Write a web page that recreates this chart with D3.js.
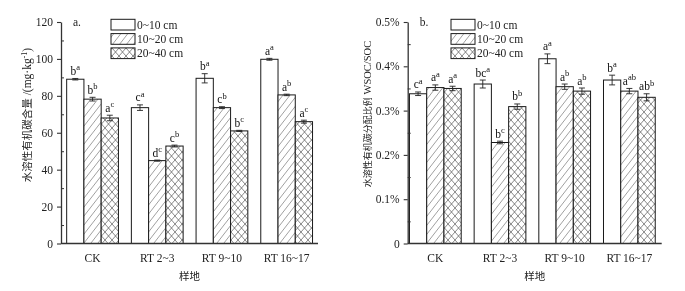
<!DOCTYPE html>
<html><head><meta charset="utf-8">
<script src="https://cdn.jsdelivr.net/npm/d3@7"></script>
<style>body{margin:0;background:#fff} svg{display:block; will-change:transform} text{-webkit-font-smoothing:grayscale}</style>
</head><body>
<svg id="c" width="685" height="291"></svg>
<script>
const categories = ["CK", "RT 2~3", "RT 9~10", "RT 16~17"];
const depths = ["0~10 cm", "10~20 cm", "20~40 cm"];

// Panel a: WSOC content (mg·kg-1)
const wsoc_0_10  = [89.0, 73.6, 89.5, 99.8];
const wsoc_10_20 = [78.2, 44.9, 73.6, 80.5];
const wsoc_20_40 = [68.0, 52.8, 61.0, 66.0];
const wsocErr_0_10  = [0.4, 1.5, 2.5, 0.5];
const wsocErr_10_20 = [1.0, 0.3, 0.5, 0.4];
const wsocErr_20_40 = [1.5, 0.5, 0.3, 0.8];
const wsocLet_0_10  = ["b|a", "c|a", "b|a", "a|a"];
const wsocLet_10_20 = ["b|b", "d|c", "c|b", "a|b"];
const wsocLet_20_40 = ["a|c", "c|b", "b|c", "a|c"];
const wsocTicks = [0, 20, 40, 60, 80, 100, 120];
const wsocMinor = [10, 30, 50, 70, 90, 110];

// Panel b: WSOC/SOC ratio (%)
const ratio_0_10  = [0.338, 0.360, 0.417, 0.369];
const ratio_10_20 = [0.352, 0.228, 0.354, 0.344];
const ratio_20_40 = [0.350, 0.309, 0.344, 0.330];
const ratioErr_0_10  = [0.004, 0.009, 0.011, 0.011];
const ratioErr_10_20 = [0.006, 0.003, 0.006, 0.006];
const ratioErr_20_40 = [0.005, 0.006, 0.007, 0.008];
const ratioLet_0_10  = ["c|a", "bc|a", "a|a", "b|a"];
const ratioLet_10_20 = ["a|a", "b|c", "a|b", "a|ab"];
const ratioLet_20_40 = ["a|a", "b|b", "a|b", "ab|b"];
const ratioTicks = [0, 0.1, 0.2, 0.3, 0.4, 0.5];
const ratioMinor = [0.05, 0.15, 0.25, 0.35, 0.45];

const svg = d3.select("#c");
const SERIF = "'Liberation Serif','Times New Roman',serif";
const CJK = "'Noto Sans CJK SC','Noto Sans',sans-serif";

const defs = svg.append("defs");
const p1 = defs.append("pattern").attr("id", "hatch").attr("patternUnits", "userSpaceOnUse")
  .attr("width", 7).attr("height", 9);
p1.append("rect").attr("width", 7).attr("height", 9).attr("fill", "#fff");
p1.append("path").attr("d", "M-1,1.3 L1,-1.3 M0,9 L7,0 M6,10.3 L8,7.7")
  .attr("stroke", "#777").attr("stroke-width", 0.7);
const p2 = defs.append("pattern").attr("id", "cross").attr("patternUnits", "userSpaceOnUse")
  .attr("width", 7).attr("height", 8);
p2.append("rect").attr("width", 7).attr("height", 8).attr("fill", "#fff");
p2.append("path").attr("d", "M0,0 L7,8 M7,0 L0,8")
  .attr("stroke", "#555").attr("stroke-width", 0.7);
const fills = ["#fff", "url(#hatch)", "url(#cross)"];

function panel(o) {
  const g = svg.append("g");
  const x = d3.scaleBand().domain(categories).range(o.xRange).paddingInner(0.2).paddingOuter(0.1);
  const xs = d3.scaleBand().domain(depths).range([0, x.bandwidth()]);
  const y = d3.scaleLinear().domain(o.yDomain).range([243.5, 22]);

  // bars
  o.values.forEach((vals, i) => {
    vals.forEach((v, j) => {
      const cx = x(categories[j]) + xs(depths[i]);
      g.append("rect").attr("x", cx).attr("y", y(v))
        .attr("width", xs.bandwidth()).attr("height", y(0) - y(v))
        .attr("fill", fills[i]).attr("stroke", "#1a1a1a").attr("stroke-width", 1);
      const e = o.errs[i][j];
      const mx = cx + xs.bandwidth() / 2;
      g.append("path")
        .attr("d", `M${mx - 3},${y(v + e)}H${mx + 3}M${mx},${y(v + e)}V${y(v - e)}M${mx - 3},${y(v - e)}H${mx + 3}`)
        .attr("stroke", "#222").attr("stroke-width", 0.9).attr("fill", "none");
      const [m, s] = o.letters[i][j].split("|");
      const t = g.append("text").attr("x", mx).attr("y", y(v + e) - 3.5)
        .attr("text-anchor", "middle").attr("font-family", SERIF).attr("font-size", 11.5).attr("fill", "#111");
      t.append("tspan").text(m);
      t.append("tspan").attr("font-size", 8.5).attr("dy", -4.5).text(s);
    });
  });

  // y axis
  const ya = g.append("g").attr("transform", `translate(${o.axisX},0)`)
    .call(d3.axisLeft(y).tickValues(o.ticks).tickSize(4).tickSizeOuter(0).tickFormat(o.fmt));
  ya.select(".domain").attr("stroke", "#333").attr("stroke-width", 1.3);
  ya.selectAll(".tick line").attr("stroke", "#333").attr("stroke-width", 1.1);
  ya.selectAll("text").attr("font-family", SERIF).attr("font-size", 11.5).attr("fill", "#222").attr("dx", -1);
  const ym = g.append("g").attr("transform", `translate(${o.axisX},0)`)
    .call(d3.axisRight(y).tickValues(o.minor).tickSize(3).tickFormat(""));
  ym.select(".domain").remove();
  ym.selectAll(".tick line").attr("stroke", "#333").attr("stroke-width", 1);

  // x axis
  g.append("line").attr("x1", o.axisX).attr("x2", o.axisEnd).attr("y1", y(0)).attr("y2", y(0))
    .attr("stroke", "#333").attr("stroke-width", 1.3);
  const xa = g.append("g").attr("transform", `translate(0,${y(0)})`)
    .call(d3.axisBottom(x).tickSize(0).tickPadding(10));
  xa.select(".domain").remove();
  xa.selectAll("text").attr("font-family", SERIF).attr("font-size", 11.5).attr("fill", "#222");

  g.append("text").attr("x", (o.axisX + o.axisEnd) / 2).attr("y", 280)
    .attr("text-anchor", "middle").attr("font-family", CJK).attr("font-size", 10.5).attr("fill", "#222")
    .text("样地");

  // y title
  const yt = g.append("text").attr("transform", `translate(${o.titleX},${o.titleY}) rotate(-90)`)
    .attr("text-anchor", "middle").attr("fill", "#222");
  o.title(yt);

  // panel label
  g.append("text").attr("x", o.axisX + 12).attr("y", 26).attr("font-family", SERIF)
    .attr("font-size", 11.5).attr("fill", "#222").text(o.panel);

  // legend
  depths.forEach((d, i) => {
    const ly = 19.3 + i * 14.3;
    g.append("rect").attr("x", o.legX).attr("y", ly).attr("width", 24).attr("height", 10.7)
      .attr("fill", fills[i]).attr("stroke", "#1a1a1a").attr("stroke-width", 1);
    g.append("text").attr("x", o.legX + 26).attr("y", ly + 9.5).attr("font-family", SERIF)
      .attr("font-size", 11.5).attr("fill", "#222").text(d);
  });
}

panel({
  xRange: [60.2, 319], axisX: 61, axisEnd: 318, yDomain: [0, 120],
  ticks: wsocTicks, minor: wsocMinor, fmt: d3.format("d"),
  values: [wsoc_0_10, wsoc_10_20, wsoc_20_40],
  errs: [wsocErr_0_10, wsocErr_10_20, wsocErr_20_40],
  letters: [wsocLet_0_10, wsocLet_10_20, wsocLet_20_40],
  titleX: 31, titleY: 115, panel: "a.", legX: 111,
  title: t => {
    t.append("tspan").attr("font-family", CJK).attr("font-size", 10.5).text("水溶性有机碳含量");
    t.append("tspan").attr("font-family", SERIF).attr("font-size", 11.5).text(" /(mg·kg");
    t.append("tspan").attr("font-family", SERIF).attr("font-size", 8).attr("dy", -4).text("-1");
    t.append("tspan").attr("font-family", SERIF).attr("font-size", 11.5).attr("dy", 4).text(")");
  }
});

panel({
  xRange: [403, 661.7], axisX: 407.7, axisEnd: 661.7, yDomain: [0, 0.5],
  ticks: ratioTicks, minor: ratioMinor, fmt: d => d === 0 ? "0" : d3.format(".1f")(d) + "%",
  values: [ratio_0_10, ratio_10_20, ratio_20_40],
  errs: [ratioErr_0_10, ratioErr_10_20, ratioErr_20_40],
  letters: [ratioLet_0_10, ratioLet_10_20, ratioLet_20_40],
  titleX: 371, titleY: 114, panel: "b.", legX: 451,
  title: t => {
    t.append("tspan").attr("font-family", CJK).attr("font-size", 9).text("水溶性有机碳分配比例");
    t.append("tspan").attr("font-family", SERIF).attr("font-size", 10.5).text(" WSOC/SOC");
  }
});
</script>
</body></html>
